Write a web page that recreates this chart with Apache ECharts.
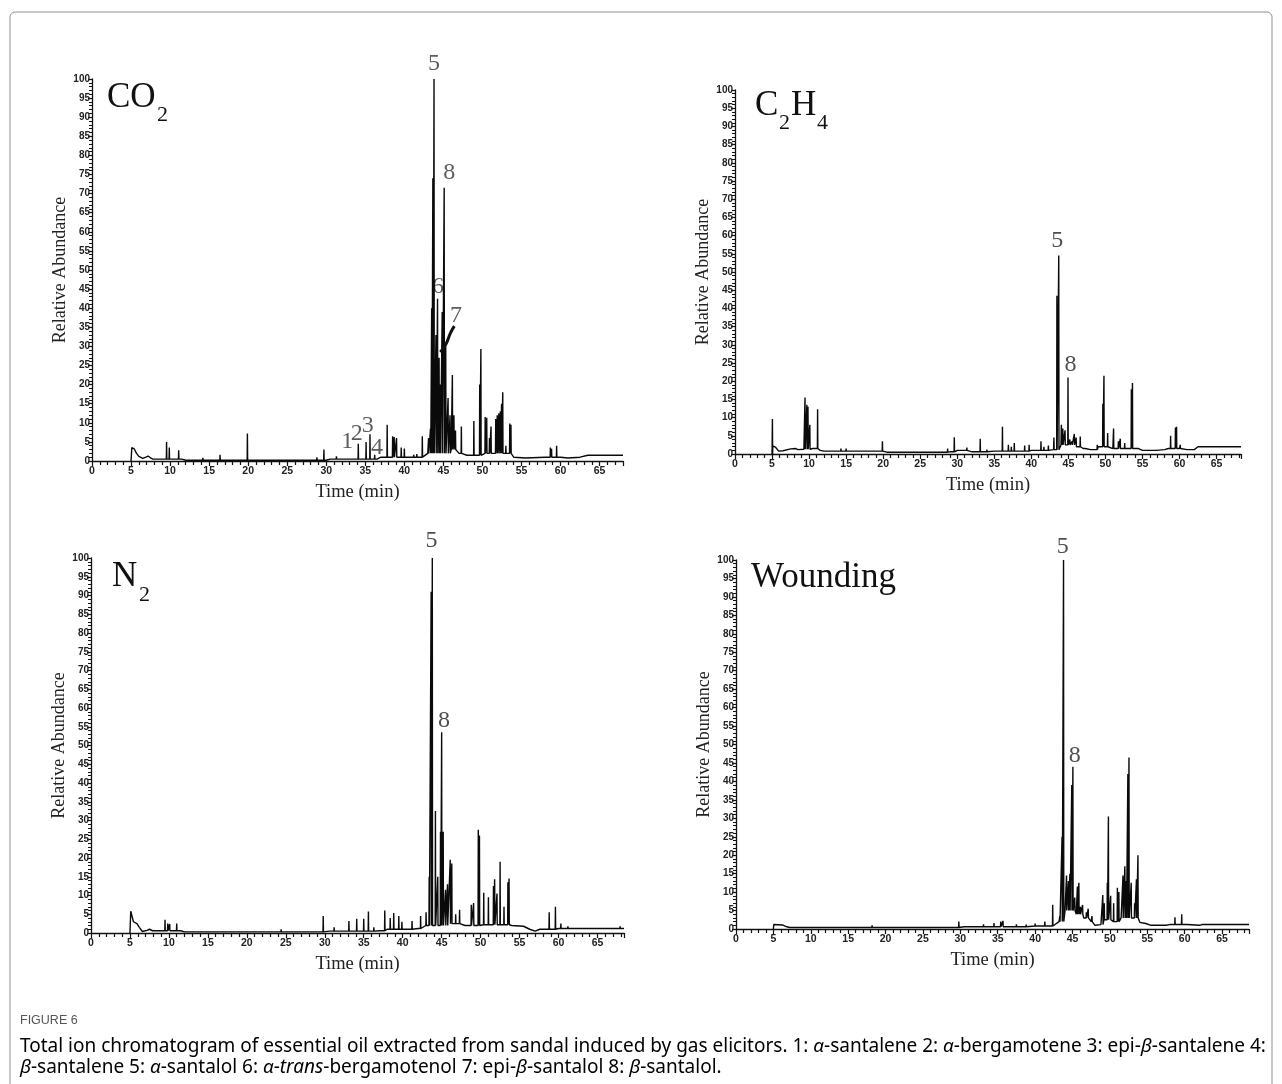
<!DOCTYPE html>
<html>
<head>
<meta charset="UTF-8">
<title>Total ion chromatogram</title>
<script src="https://cdn.jsdelivr.net/npm/echarts@6/dist/echarts.min.js"></script>
<style>
  html, body { margin: 0; padding: 0; background: #fff; }
  #chart { width: 1282px; height: 1084px; }
</style>
</head>
<body>
<div id="chart"></div>
<script type="text/javascript">
// baseline knots [time (min), relative abundance] and peaks [time, height]
var co2Base = [[5.0,0],[5.1,3.5],[5.4,3.2],[5.7,2],[6.0,1.2],[6.5,0.7],[6.9,1],[7.2,1.3],[7.5,0.8],[7.8,0.5],[11.5,0.5],[12,0.2],[30,0.2],[30.5,0.5],[36.5,0.5],[37,1],[42,1],[43,2],[46,3],[47,2],[48,1.5],[49,1.5],[50,2],[53,2],[54,1],[55.5,0.8],[58,1],[60,1],[61,0.8],[62.5,1],[63.5,1.5],[68,1.5]];
var co2Peaks = [[9.55,5],[9.9,3.5],[11.1,2.8],[14.2,0.8],[16.4,1.6],[19.9,7.2],[22.5,0.6],[28.8,1],[29.7,3],[31.3,1.2],[34.1,4.5],[35.1,5],[35.6,7],[36.2,1.6],[37.8,9.5],[38.5,6.5],[38.7,6.3],[39.0,6],[39.6,3.5],[40.0,3.3],[41.2,1.6],[41.6,1.8],[42.3,6.5],[43.1,6],[43.35,8.5],[43.5,40],[43.65,74],[43.8,100],[44.05,33],[44.25,42.5],[44.45,27],[44.6,20],[44.85,39],[45.1,71.5],[45.3,30],[45.6,16.5],[45.85,12],[46.15,22.5],[46.35,12],[46.55,8],[47.3,9],[48.9,10.5],[49.65,20],[49.8,29.3],[50.35,11.5],[50.55,11.3],[50.9,6],[51.1,9],[51.7,11],[51.9,12],[52.1,12.5],[52.3,13],[52.45,15],[52.6,18],[53.0,4],[53.5,9.8],[53.65,9.5],[58.7,3.5],[58.85,3.2],[59.5,4],[61.0,1]];
var co2Leader = [[44.6,28.5],[45.3,30.5],[45.9,33.5],[46.4,35.3]];
var co2Labels = [[43.8,104,'5'],[45.75,75.5,'8'],[44.3,45.5,'6'],[46.6,38,'7'],[32.7,5,'1'],[33.9,7.2,'2'],[35.3,9.2,'3'],[36.5,3.4,'4']];

var c2h4Base = [[5.0,0],[5.1,2.2],[5.5,1.8],[5.9,0.8],[6.5,0.9],[7.5,1.4],[8.2,1.5],[8.5,1.2],[9.3,1.3],[10.5,1.5],[11.5,1],[12,0.8],[19,0.8],[20.5,0.5],[29,0.6],[30,1],[32,0.6],[35,0.8],[40,1],[43,1.2],[44,2.5],[46,2],[47,1.5],[48,1.2],[49,2],[51,1.5],[54,1.5],[55,1],[58,1.2],[58.5,1.5],[60,1.5],[61,1.2],[62,1.2],[62.5,2],[68.3,2]];
var c2h4Peaks = [[5.05,9.6],[9.45,15.5],[9.7,13.5],[9.85,13],[10.1,8],[11.15,12.3],[14.3,1.5],[15.0,1.5],[16.2,1],[19.3,1],[19.9,3.5],[22.3,1],[24.5,1],[28.7,1.5],[29.6,4.6],[30.3,1.5],[31.3,1.8],[33.1,4.2],[34.0,1.2],[35.5,1.2],[36.1,7.5],[36.9,2.5],[37.3,2],[37.7,3],[39.1,2.3],[39.7,2.5],[41.3,3.5],[41.7,2],[42.3,2.3],[43.05,4.5],[43.45,43.5],[43.7,54.5],[44.05,8],[44.25,7],[44.55,6.5],[44.95,21],[45.2,4],[45.5,3.5],[45.8,5.5],[46.05,4.5],[46.6,4.8],[47.3,2],[48.9,2.5],[49.65,13.8],[49.8,21.5],[50.3,5.8],[51.1,7],[51.75,3.5],[52.0,4.2],[52.6,3],[53.5,17.8],[53.65,19.5],[54.5,1.5],[56.9,1.5],[58.8,5],[59.45,7.3],[59.6,7.5],[60.1,2.5]];
var c2h4Labels = [[43.5,58.5,'5'],[45.3,24.5,'8']];

var n2Base = [[5.0,0],[5.1,5.8],[5.35,5.5],[5.45,3],[5.9,2.5],[6.2,1.5],[6.6,0.4],[7.2,0.7],[7.5,1],[7.9,0.6],[11.5,0.6],[12,0.3],[29.5,0.3],[30,0.5],[37,0.6],[38,1],[42,1.2],[43,2],[46,2.5],[48,2],[50,2.2],[54,2],[55.5,1.8],[56.3,1],[57,0.5],[57.6,1],[60,1.2],[68.4,1.2]];
var n2Peaks = [[9.5,3.5],[9.85,2.5],[10.1,2.4],[11.0,2.5],[13.9,0.6],[16.0,0.6],[19.0,0.6],[22.4,0.6],[24.4,1],[27.6,0.6],[29.8,4.5],[30.6,1],[31.2,1.5],[32.1,1],[33.1,3.2],[34.1,3.8],[35.0,3.8],[35.6,5.7],[36.3,1.5],[37.7,6],[38.4,4],[38.85,5.3],[39.5,4.5],[39.9,3],[41.2,3.2],[42.3,4.5],[43.0,5.5],[43.4,15],[43.65,91],[43.8,100],[44.2,32.5],[44.5,15],[44.85,27],[45.0,53.5],[45.2,27],[45.5,11.5],[45.75,13],[46.1,19.5],[46.3,18.5],[46.8,5],[47.3,6.2],[48.8,7.5],[49.1,8],[49.7,27.5],[49.85,26],[50.4,10.7],[51.0,9.5],[51.65,12.5],[51.8,14.3],[52.1,10.5],[52.5,19],[53.0,7],[53.5,13.5],[53.65,14.5],[58.8,5.5],[59.6,7],[60.3,2.5],[61.2,1.8],[65.5,1.6],[67.9,1.8]];
var n2Labels = [[43.7,104.5,'5'],[45.3,56.5,'8']];

var woundBase = [[5.0,0],[5.05,1.2],[6.2,1.1],[6.8,0.6],[7.2,0.4],[30,0.4],[30.5,0.6],[38,0.6],[40,0.8],[42.5,1],[43.2,2],[44,5],[45.5,4],[46.5,3],[47.5,2],[48,1],[48.8,1.2],[49.2,2.5],[50.5,2],[51.5,3],[53.3,3],[54,1.8],[54.8,1.5],[55.5,1],[57.5,1],[58,1.2],[60.5,1],[62,1],[62.3,1.2],[68.6,1.2]];
var woundPeaks = [[18.2,1],[19.0,0.8],[24.8,0.8],[29.8,2],[31.2,1],[33.1,1.3],[34.5,1.6],[35.4,2],[35.7,2.2],[37.5,1.3],[38.8,1.2],[40.0,1.5],[41.3,2],[42.35,6.6],[43.3,3.5],[43.6,25],[43.8,100],[44.2,14.5],[44.45,13],[44.65,15],[44.9,39],[45.05,44],[45.3,8.5],[45.65,11.5],[45.85,12.5],[46.05,6],[46.35,6.5],[46.85,4.5],[47.1,5.5],[47.6,3.5],[49.05,9.2],[49.25,7],[49.65,12.5],[49.8,30.5],[50.1,9],[50.5,7],[51.0,11.2],[51.2,10],[51.75,14.5],[52.0,17],[52.2,13],[52.4,42],[52.55,46.5],[52.85,12.5],[53.3,7],[53.55,13.5],[53.75,20],[54.2,2],[58.7,3.2],[59.6,4],[60.3,1.5]];
var woundLabels = [[43.7,103.5,'5'],[45.3,47,'8']];

var xMax = [68, 68.3, 68.4, 68.6];

var serif = "'Liberation Serif', 'Times New Roman', serif";
var narrow = "'Liberation Sans Narrow', 'Liberation Sans', Arial, sans-serif";

// last baseline knot at or before t
function footAt(base, t) {
    var v = base[0][1];
    for (var i = 0; i < base.length; i++) {
        if (base[i][0] <= t) v = base[i][1];
    }
    return v;
}

// baseline plus thin spikes for every peak
function trace(base, peaks) {
    var pts = base.map(function (p) { return [p[0], p[1]]; });
    peaks.forEach(function (p) {
        var f = footAt(base, p[0]);
        pts.push([p[0] - 0.03, f], [p[0], p[1]], [p[0] + 0.03, f]);
    });
    pts.sort(function (a, b) { return a[0] - b[0]; });
    return pts;
}

var chart = echarts.init(document.getElementById('chart'));

var grids = [
    {left: 92, top: 79, width: 531, height: 382},
    {left: 735, top: 90, width: 506, height: 364},
    {left: 91, top: 558, width: 533, height: 375},
    {left: 736, top: 560, width: 513, height: 369}
];

var xAxes = [], yAxes = [];
grids.forEach(function (g, i) {
    xAxes.push({
        gridIndex: i, type: 'value', min: 0, max: xMax[i], interval: 5,
        name: 'Time (min)', nameLocation: 'middle', nameGap: 22,
        nameTextStyle: {fontFamily: serif, fontSize: 18.5, color: '#222'},
        axisLine: {onZero: false, lineStyle: {color: '#111', width: 1.3}},
        axisTick: {length: 5, lineStyle: {color: '#111', width: 1.2}},
        minorTick: {show: true, splitNumber: 5, length: 4, lineStyle: {color: '#111', width: 1.2}},
        axisLabel: {showMaxLabel: false, fontSize: 10.5, color: '#222', fontFamily: narrow, fontWeight: 'bold', margin: 5},
        splitLine: {show: false}
    });
    yAxes.push({
        gridIndex: i, type: 'value', min: 0, max: 100, interval: 5,
        name: 'Relative Abundance', nameLocation: 'middle', nameGap: 17, nameRotate: 90,
        nameTextStyle: {fontFamily: serif, fontSize: 18, color: '#222'},
        axisLine: {show: true, lineStyle: {color: '#111', width: 1.3}},
        axisTick: {length: 4, lineStyle: {color: '#111', width: 1.2}},
        minorTick: {show: true, splitNumber: 5, length: 3, lineStyle: {color: '#111'}},
        axisLabel: {fontSize: 10, color: '#222', fontFamily: narrow, fontWeight: 'bold', margin: 2},
        splitLine: {show: false}
    });
});

function traceSeries(i, base, peaks) {
    return {
        type: 'line', xAxisIndex: i, yAxisIndex: i, data: trace(base, peaks),
        showSymbol: false, symbol: 'none', animation: false,
        lineStyle: {color: '#0a0a0a', width: 1.4}
    };
}

function labelSeries(i, labels, color) {
    return {
        type: 'scatter', xAxisIndex: i, yAxisIndex: i, data: labels,
        symbolSize: 1, clip: false, animation: false, silent: true,
        itemStyle: {color: 'rgba(0,0,0,0)'},
        label: {
            show: true, position: 'inside',
            formatter: function (p) { return p.value[2]; },
            fontFamily: serif, fontSize: 24, color: color || '#222'
        }
    };
}

var series = [
    traceSeries(0, co2Base, co2Peaks),
    {
        type: 'line', xAxisIndex: 0, yAxisIndex: 0, data: co2Leader, smooth: true,
        showSymbol: false, symbol: 'none', animation: false,
        lineStyle: {color: '#111', width: 3}
    },
    labelSeries(0, co2Labels, '#333'),
    traceSeries(1, c2h4Base, c2h4Peaks),
    labelSeries(1, c2h4Labels),
    traceSeries(2, n2Base, n2Peaks),
    labelSeries(2, n2Labels),
    traceSeries(3, woundBase, woundPeaks),
    labelSeries(3, woundLabels)
];

var capFont = "'Noto Sans', 'Open Sans', sans-serif";
var capRich = {
    n: {fontFamily: capFont, fontSize: 19, color: '#555'},
    i: {fontFamily: capFont, fontSize: 19, color: '#555', fontStyle: 'italic'}
};

var graphic = [
    {type: 'rect', shape: {x: 10, y: 12, width: 1262, height: 1085, r: 5},
        style: {fill: 'none', stroke: '#8f8f8f', lineWidth: 1}, z: 0},
    // panel titles
    {type: 'text', x: 107, y: 98, style: {text: 'CO', fontFamily: serif, fontSize: 35, fill: '#111', verticalAlign: 'middle'}},
    {type: 'text', x: 157, y: 115, style: {text: '2', fontFamily: serif, fontSize: 22, fill: '#111', verticalAlign: 'middle'}},
    {type: 'text', x: 755, y: 106, style: {text: 'C', fontFamily: serif, fontSize: 35, fill: '#111', verticalAlign: 'middle'}},
    {type: 'text', x: 779, y: 123, style: {text: '2', fontFamily: serif, fontSize: 22, fill: '#111', verticalAlign: 'middle'}},
    {type: 'text', x: 791, y: 106, style: {text: 'H', fontFamily: serif, fontSize: 35, fill: '#111', verticalAlign: 'middle'}},
    {type: 'text', x: 817, y: 123, style: {text: '4', fontFamily: serif, fontSize: 22, fill: '#111', verticalAlign: 'middle'}},
    {type: 'text', x: 112, y: 577, style: {text: 'N', fontFamily: serif, fontSize: 35, fill: '#111', verticalAlign: 'middle'}},
    {type: 'text', x: 139, y: 595, style: {text: '2', fontFamily: serif, fontSize: 22, fill: '#111', verticalAlign: 'middle'}},
    {type: 'text', x: 751, y: 578, style: {text: 'Wounding', fontFamily: serif, fontSize: 35, fill: '#111', verticalAlign: 'middle'}},
    // caption
    {type: 'text', x: 20, y: 1021, style: {text: 'FIGURE 6', fontFamily: narrow, fontSize: 12.5, fill: '#555', verticalAlign: 'middle'}},
    {type: 'text', x: 20, y: 1047, style: {
        text: '{n|Total ion chromatogram of essential oil extracted from sandal induced by gas elicitors. 1: }{i|α}{n|-santalene 2: }{i|α}{n|-bergamotene 3: epi-}{i|β}{n|-santalene 4:}',
        rich: capRich, verticalAlign: 'middle'}},
    {type: 'text', x: 20, y: 1068, style: {
        text: '{i|β}{n|-santalene 5: }{i|α}{n|-santalol 6: }{i|α}{n|-}{i|trans}{n|-bergamotenol 7: epi-}{i|β}{n|-santalol 8: }{i|β}{n|-santalol.}',
        rich: capRich, verticalAlign: 'middle'}}
];

var option = {
    backgroundColor: '#fff',
    animation: false,
    grid: grids,
    xAxis: xAxes,
    yAxis: yAxes,
    series: series,
    graphic: graphic
};

chart.setOption(option);
</script>
</body>
</html>
